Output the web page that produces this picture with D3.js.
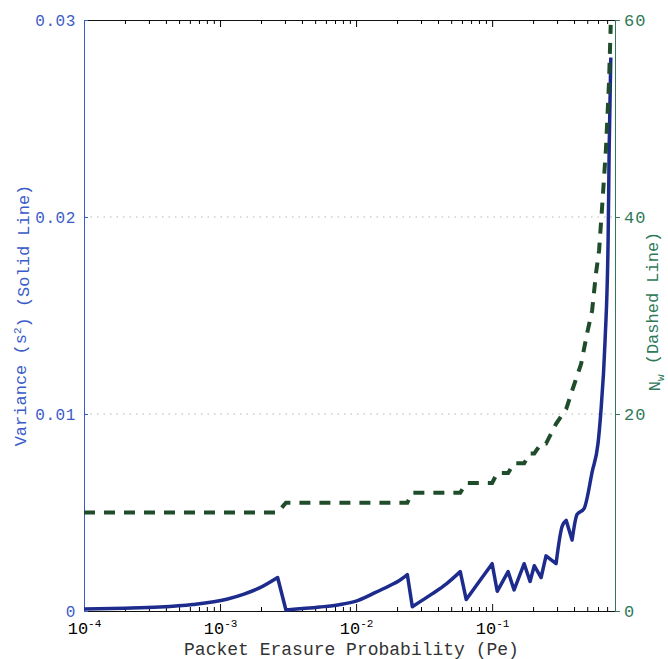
<!DOCTYPE html>
<html>
<head>
<meta charset="utf-8">
<script src="https://cdn.jsdelivr.net/npm/d3@7"></script>
<style>
  body { margin: 0; background: #fff; }
  text { font-family: "Liberation Mono", "Courier New", monospace; }
</style>
</head>
<body>
<div id="chart-area"></div>
<script>
// Variance (solid line)
var peSolid = [1.0e-4, 2.0e-4, 3.6e-4, 6.3e-4, 1.12e-3, 1.5e-3, 1.95e-3, 2.65e-3, 3.05e-3,
  5.4e-3, 7.5e-3, 1.0e-2, 1.32e-2, 1.76e-2, 2.08e-2, 2.38e-2, 2.59e-2,
  3.64e-2, 4.61e-2, 5.83e-2, 6.45e-2, 8.04e-2, 0.100, 0.109, 0.131, 0.145,
  0.172, 0.190, 0.204, 0.229, 0.249, 0.295, 0.327, 0.350, 0.387, 0.421,
  0.474, 0.545, 0.600, 0.628, 0.676, 0.712, 0.725, 0.745];
var variance = [0.00010, 0.00014, 0.00020, 0.00033, 0.00060, 0.00086, 0.00117, 0.00170, 0.00005,
  0.00020, 0.00032, 0.00050, 0.00087, 0.00128, 0.00155, 0.00185, 0.00022,
  0.00088, 0.00138, 0.00200, 0.00058, 0.00150, 0.00240, 0.00100, 0.00200, 0.00107,
  0.00240, 0.00150, 0.00230, 0.00170, 0.00280, 0.00240, 0.00430, 0.00460, 0.00360, 0.00490,
  0.00520, 0.00710, 0.00850, 0.01000, 0.01370, 0.01880, 0.02350, 0.02810];

// N_w (dashed line)
var peDashed = [1.0e-4, 2.65e-3, 3.05e-3, 2.38e-2, 2.59e-2, 5.83e-2, 6.45e-2, 0.100,
  0.109, 0.131, 0.145, 0.172, 0.190, 0.204, 0.229, 0.249, 0.295, 0.350, 0.390,
  0.451, 0.499, 0.543, 0.580, 0.611, 0.643, 0.687, 0.723, 0.744];
var nw = [10, 10, 11, 11, 12, 12, 13, 13,
  14, 14, 15, 15, 16, 16, 17, 17, 19, 20.5, 22.5,
  25.1, 28.2, 30.5, 34.3, 36.6, 41, 47, 53.7, 59.5];

var xMajor = [1e-4, 1e-3, 1e-2, 1e-1];
var varTicks = [0, 0.01, 0.02, 0.03];
var nwTicks = [0, 20, 40, 60];

var margin = { left: 84, right: 53, top: 20, bottom: 48 };
var width = 668 - margin.left - margin.right;
var height = 659 - margin.top - margin.bottom;

var blue = "#3a5cc8", green = "#2e7a58";

var svg = d3.select("#chart-area").append("svg")
  .attr("width", 668)
  .attr("height", 659);
var g = svg.append("g")
  .attr("transform", "translate(" + margin.left + "," + margin.top + ")");

var x = d3.scaleLog().domain([1e-4, 0.8]).range([0, width]);
var y = d3.scaleLinear().domain([0, 0.03]).range([height, 0]);
var yN = d3.scaleLinear().domain([0, 60]).range([height, 0]);

// minor ticks 2..9 in each decade
var xMinor = [];
xMajor.forEach(function(d) {
  for (var k = 2; k <= 9; k++) if (k * d <= 0.8) xMinor.push(k * d);
});

// dotted grid
g.selectAll("line.grid")
  .data([0.01, 0.02])
  .enter().append("line")
    .attr("class", "grid")
    .attr("x1", 0).attr("x2", width)
    .attr("y1", function(d) { return y(d); })
    .attr("y2", function(d) { return y(d); })
    .attr("stroke", "#b5b5b5")
    .attr("stroke-width", 1)
    .attr("stroke-dasharray", "1.5,5");

// bottom axis
var xAxisG = g.append("g")
  .attr("transform", "translate(0," + height + ")")
  .call(d3.axisBottom(x).tickValues(xMajor).tickSizeInner(-7).tickSizeOuter(0).tickPadding(11).tickFormat(""));
g.append("g")
  .attr("transform", "translate(0," + height + ")")
  .call(d3.axisBottom(x).tickValues(xMinor).tickSizeInner(-4).tickSizeOuter(0).tickFormat(""))
  .select(".domain").remove();
xAxisG.select(".domain").attr("stroke", "#111");
xAxisG.selectAll(".tick line").attr("stroke", "#111");
xAxisG.selectAll(".tick text").each(function(d) {
  var t = d3.select(this)
    .attr("fill", "#000")
    .attr("font-size", "17px");
  t.append("tspan").text("10");
  t.append("tspan")
    .attr("dy", "-0.6em")
    .attr("font-size", "11px")
    .text("-" + Math.round(-Math.log10(d)));
});

// top axis
var topG = g.append("g")
  .call(d3.axisTop(x).tickValues(xMajor).tickSizeInner(-7).tickSizeOuter(0).tickFormat(""));
g.append("g")
  .call(d3.axisTop(x).tickValues(xMinor).tickSizeInner(-4).tickSizeOuter(0).tickFormat(""))
  .select(".domain").remove();
topG.select(".domain").attr("stroke", "#111");

// left axis
var yAxisG = g.append("g")
  .call(d3.axisLeft(y).tickValues(varTicks).tickSizeInner(-4).tickSizeOuter(0).tickPadding(8)
    .tickFormat(function(d) { return d === 0 ? "0" : d3.format(".2f")(d); }));
yAxisG.select(".domain").attr("stroke", blue);
yAxisG.selectAll(".tick line").attr("stroke", blue);
yAxisG.selectAll(".tick text")
  .attr("fill", blue)
  .attr("font-size", "16px")
  .attr("letter-spacing", "0.6px");

// right axis
var yNAxisG = g.append("g")
  .attr("transform", "translate(" + width + ",0)")
  .call(d3.axisRight(yN).tickValues(nwTicks).tickSizeInner(5).tickSizeOuter(0).tickPadding(4));
yNAxisG.select(".domain").attr("stroke", green);
yNAxisG.selectAll(".tick line").attr("stroke", green);
yNAxisG.selectAll(".tick text")
  .attr("fill", green)
  .attr("font-size", "17px")
  .attr("letter-spacing", "1px");

// solid line: smooth rising runs, straight drops between them
var solidPts = peSolid.map(function(p, i) { return [x(p), y(variance[i])]; });
var runs = [[solidPts[0]]];
for (var i = 1; i < solidPts.length; i++) {
  if (variance[i] < variance[i - 1]) runs.push([]);
  runs[runs.length - 1].push(solidPts[i]);
}
var runLine = d3.line().curve(d3.curveMonotoneX);
var solidD = runs.map(function(r, k) {
  var d = r.length > 1 ? runLine(r) : "M" + r[0][0] + "," + r[0][1];
  return k === 0 ? d : "L" + d.slice(1);
}).join("");
g.append("path")
  .attr("fill", "none")
  .attr("stroke", "#1d2c8c")
  .attr("stroke-width", 3.5)
  .attr("stroke-linejoin", "round")
  .attr("d", solidD);

var dashedLine = d3.line()
  .x(function(d, i) { return x(peDashed[i]); })
  .y(function(d) { return yN(d); });
g.append("path")
  .datum(nw)
  .attr("fill", "none")
  .attr("stroke", "#1f4d2c")
  .attr("stroke-width", 4)
  .attr("stroke-dasharray", "11,9")
  .attr("d", dashedLine);

// X label
g.append("text")
  .attr("x", width / 2 + 2)
  .attr("y", height + 44)
  .attr("font-size", "18px")
  .attr("text-anchor", "middle")
  .attr("fill", "#333")
  .text("Packet Erasure Probability (Pe)");

// left label
var yLabel = svg.append("text")
  .attr("transform", "translate(26," + (margin.top + height / 2) + ") rotate(-90)")
  .attr("font-size", "17px")
  .attr("text-anchor", "middle")
  .attr("fill", blue);
yLabel.append("tspan").text("Variance (s");
yLabel.append("tspan").attr("dy", "-0.5em").attr("font-size", "11px").text("2");
yLabel.append("tspan").attr("dy", "0.5em").text(") (Solid Line)");

// right label
var nLabel = svg.append("text")
  .attr("transform", "translate(660," + (margin.top + height / 2 - 4) + ") rotate(-90)")
  .attr("font-size", "17px")
  .attr("text-anchor", "middle")
  .attr("fill", green);
nLabel.append("tspan").text("N");
nLabel.append("tspan").attr("dy", "0.35em").attr("font-size", "11px").text("w");
nLabel.append("tspan").attr("dy", "-0.35em").text(" (Dashed Line)");
</script>
</body>
</html>
